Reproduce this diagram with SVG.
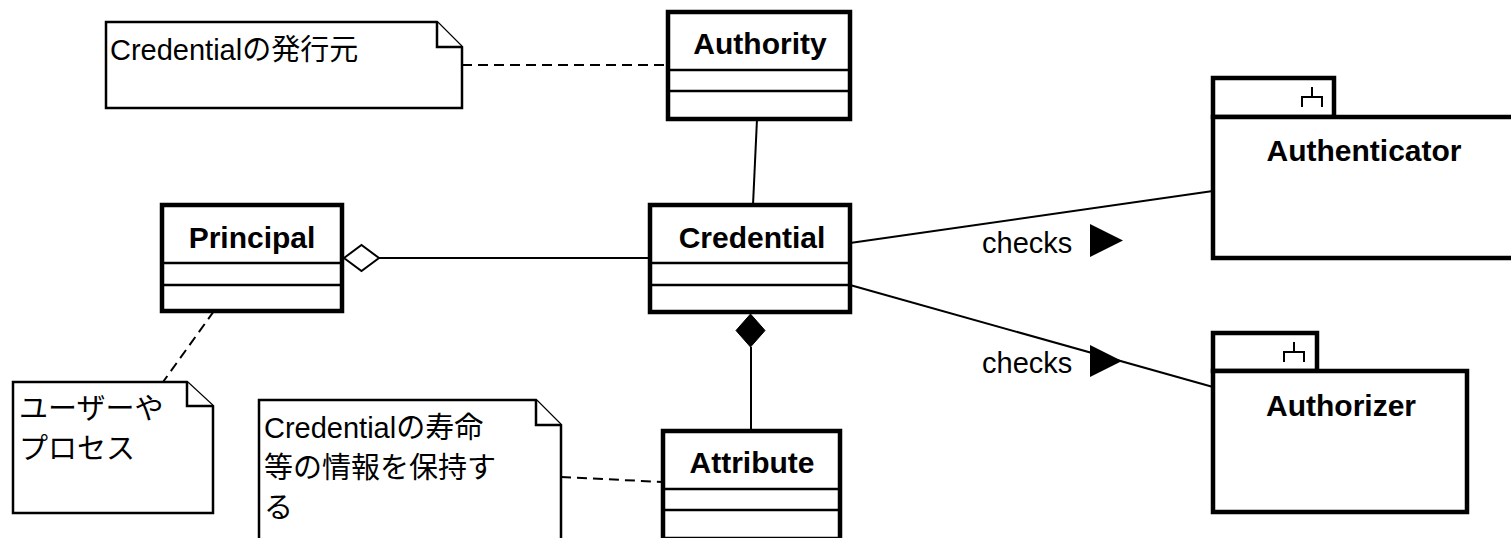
<svg xmlns="http://www.w3.org/2000/svg" width="1511" height="538" viewBox="0 0 1511 538">
  <style>
    .cls { fill: #fff; stroke: #000; stroke-width: 4.5; }
    .sep { stroke: #000; stroke-width: 2.5; fill: none; }
    .pkg { fill: #fff; stroke: #000; stroke-width: 4.5; }
    .icon { stroke: #000; stroke-width: 2; fill: none; }
    .note { fill: #fff; stroke: #000; stroke-width: 2.5; stroke-linejoin: miter; }
    .name { font-family: "Liberation Sans", Arial, sans-serif; font-weight: bold; font-size: 30px; fill: #000; text-anchor: middle; }
    .ntext { font-family: "Liberation Sans", "Noto Sans CJK JP", sans-serif; font-size: 29px; fill: #000; }
    .lbl { font-family: "Liberation Sans", Arial, sans-serif; font-size: 29px; fill: #000; }
    .link { stroke: #000; stroke-width: 2; fill: none; }
    .dash { stroke: #000; stroke-width: 2; fill: none; stroke-dasharray: 10 6; }
  </style>

  <!-- connectors -->
  <g id="connectors">
    <!-- Authority - Credential -->
    <line class="link" x1="757" y1="119" x2="753" y2="205"/>
    <!-- Principal <>- Credential (aggregation) -->
    <line class="link" x1="379" y1="258" x2="650" y2="258"/>
    <polygon points="344,258 361.5,245 379,258 361.5,271" fill="#fff" stroke="#000" stroke-width="2"/>
    <!-- Credential <#>- Attribute (composition) -->
    <line class="link" x1="751" y1="347" x2="751" y2="431"/>
    <polygon points="750.5,314 765,330.5 750.5,347 736,330.5" fill="#000" stroke="#000" stroke-width="1"/>
    <!-- Credential - Authenticator -->
    <line class="link" x1="850" y1="243" x2="1213" y2="191"/>
    <text class="lbl" x="982" y="253">checks</text>
    <polygon points="1090,224 1123,240.5 1090,257" fill="#000"/>
    <!-- Credential - Authorizer -->
    <line class="link" x1="850" y1="285" x2="1213" y2="387"/>
    <text class="lbl" x="982" y="373">checks</text>
    <polygon points="1090,345 1122,361 1090,377" fill="#000"/>
    <!-- note anchors -->
    <line class="dash" x1="462" y1="65" x2="668" y2="65"/>
    <line class="dash" x1="214" y1="311" x2="163" y2="382"/>
    <line class="dash" x1="561" y1="477" x2="663" y2="482"/>
  </g>

  <!-- notes -->
  <g id="note-issuer">
    <path class="note" d="M106,22 H437 L462,47 V108 H106 Z"/>
    <path class="note" d="M437,22 V47 H462" fill="none"/>
    <text class="ntext" x="110" y="60">Credentialの発行元</text>
  </g>

  <g id="note-principal">
    <path class="note" d="M13,382 H187 L213,406 V513 H13 Z"/>
    <path class="note" d="M187,382 V406 H213" fill="none"/>
    <text class="ntext" x="19" y="419">ユーザーや</text>
    <text class="ntext" x="19" y="459">プロセス</text>
  </g>

  <g id="note-attribute">
    <path class="note" d="M259,400 H536 L561,425 V545 H259 Z"/>
    <path class="note" d="M536,400 V425 H561" fill="none"/>
    <text class="ntext" x="264" y="438">Credentialの寿命</text>
    <text class="ntext" x="264" y="478">等の情報を保持す</text>
    <text class="ntext" x="264" y="518">る</text>
  </g>

  <!-- classes -->
  <g id="class-authority">
    <rect class="cls" x="668" y="12" width="182" height="107"/>
    <line class="sep" x1="668" y1="70" x2="850" y2="70"/>
    <line class="sep" x1="668" y1="91" x2="850" y2="91"/>
    <text class="name" x="760" y="54">Authority</text>
  </g>

  <g id="class-principal">
    <rect class="cls" x="162" y="205" width="180" height="106"/>
    <line class="sep" x1="162" y1="263" x2="342" y2="263"/>
    <line class="sep" x1="162" y1="285" x2="342" y2="285"/>
    <text class="name" x="252" y="248">Principal</text>
  </g>

  <g id="class-credential">
    <rect class="cls" x="650" y="205" width="200" height="107"/>
    <line class="sep" x1="650" y1="263" x2="850" y2="263"/>
    <line class="sep" x1="650" y1="285" x2="850" y2="285"/>
    <text class="name" x="752" y="248">Credential</text>
  </g>

  <g id="class-attribute">
    <rect class="cls" x="663" y="431" width="177" height="108"/>
    <line class="sep" x1="663" y1="489" x2="840" y2="489"/>
    <line class="sep" x1="663" y1="510" x2="840" y2="510"/>
    <text class="name" x="752" y="473">Attribute</text>
  </g>

  <!-- packages -->
  <g id="package-authenticator">
    <rect class="pkg" x="1213" y="78" width="121" height="39"/>
    <rect class="pkg" x="1213" y="117" width="320" height="141"/>
    <path class="icon" d="M1312,87 V97 M1302,107 V97 H1322 V107"/>
    <text class="name" x="1364" y="161">Authenticator</text>
  </g>

  <g id="package-authorizer">
    <rect class="pkg" x="1213" y="333" width="104" height="38"/>
    <rect class="pkg" x="1213" y="371" width="254" height="141"/>
    <path class="icon" d="M1294,342 V352 M1284,362 V352 H1304 V362"/>
    <text class="name" x="1341" y="416">Authorizer</text>
  </g>
</svg>
